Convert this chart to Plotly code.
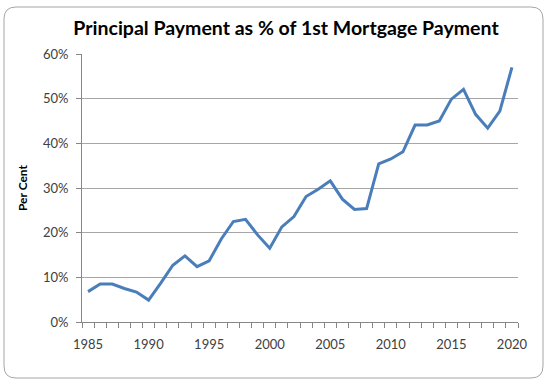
import plotly.graph_objects as go

years = list(range(1985, 2021))
principal_pct = [6.8, 8.5, 8.5, 7.5, 6.7, 4.9, 8.7, 12.7, 14.8, 12.4,
                 13.7, 18.6, 22.5, 23.0, 19.5, 16.5, 21.3, 23.6, 28.1, 29.7,
                 31.6, 27.5, 25.2, 25.4, 35.4, 36.5, 38.1, 44.1, 44.1, 45.0,
                 49.9, 52.1, 46.5, 43.4, 47.2, 57.0]
x_tick_labels = [1985, 1990, 1995, 2000, 2005, 2010, 2015, 2020]
y_tick_vals = [0, 0.1, 0.2, 0.3, 0.4, 0.5, 0.6]

title_text = "Principal Payment as % of 1st Mortgage Payment"
y_title = "Per Cent"

W, H = 550, 388
L, R, T, B = 82, 32, 54, 66
pw, ph = W - L - R, H - T - B

def px_to_paper_x(px):
    return (px - L) / pw

def px_to_paper_y(py):
    return (H - B - py) / ph

fig = go.Figure()
fig.add_trace(go.Scatter(
    x=years, y=[v / 100 for v in principal_pct], mode="lines",
    line=dict(color="#4a7ebb", width=3), hoverinfo="x+y", showlegend=False,
))

# rounded border around whole chart
x0, x1 = px_to_paper_x(4), px_to_paper_x(543)
y0, y1 = px_to_paper_y(378), px_to_paper_y(7)
rx, ry = 12 / pw, 12 / ph
path = (f"M {x0+rx},{y1} L {x1-rx},{y1} Q {x1},{y1} {x1},{y1-ry} "
        f"L {x1},{y0+ry} Q {x1},{y0} {x1-rx},{y0} "
        f"L {x0+rx},{y0} Q {x0},{y0} {x0},{y0+ry} "
        f"L {x0},{y1-ry} Q {x0},{y1} {x0+rx},{y1} Z")
fig.add_shape(type="path", path=path, xref="paper", yref="paper",
              line=dict(color="#a6a6a6", width=1), layer="below")

font_family = "Lato, Calibri, Carlito, sans-serif"

fig.update_layout(
    width=W, height=H,
    margin=dict(l=L, r=R, t=T, b=B, autoexpand=False),
    paper_bgcolor="white", plot_bgcolor="white",
    font=dict(family=font_family, size=13, color="#404040"),
    title=dict(text=f"<b>{title_text}</b>", x=px_to_paper_x(286),
               xref="paper", xanchor="center",
               y=1 - 28 / H, yanchor="middle", automargin=False,
               font=dict(family=font_family, size=19.5, color="#000000")),
    xaxis=dict(
        range=[1984.5, 2020.5], tickmode="array", tickvals=x_tick_labels,
        ticktext=[str(v) for v in x_tick_labels], ticks="",
        ticklabelstandoff=10,
        showgrid=False, zeroline=False, showline=True, automargin=False,
        linecolor="#868686", linewidth=1,
        tickfont=dict(size=13, color="#404040"),
        minor=dict(tickmode="linear", tick0=1984.5, dtick=1, ticks="outside",
                   ticklen=5, tickcolor="#868686", tickwidth=1, showgrid=False),
    ),
    yaxis=dict(
        range=[0, 0.6], tickmode="array", tickvals=y_tick_vals,
        tickformat=".0%", ticks="outside", ticklen=5, tickcolor="#868686",
        ticklabelstandoff=5,
        showgrid=True, gridcolor="#a6a6a6", gridwidth=1,
        zeroline=False, showline=True, linecolor="#868686", linewidth=1,
        automargin=False,
        tickfont=dict(size=13, color="#404040"),
        title=dict(text=f"<b>{y_title}</b>", standoff=12,
                   font=dict(size=12, color="#000000")),
    ),
)

fig.write_html("out.html", config={"displayModeBar": False},
               post_script="document.body.style.margin='0';")
